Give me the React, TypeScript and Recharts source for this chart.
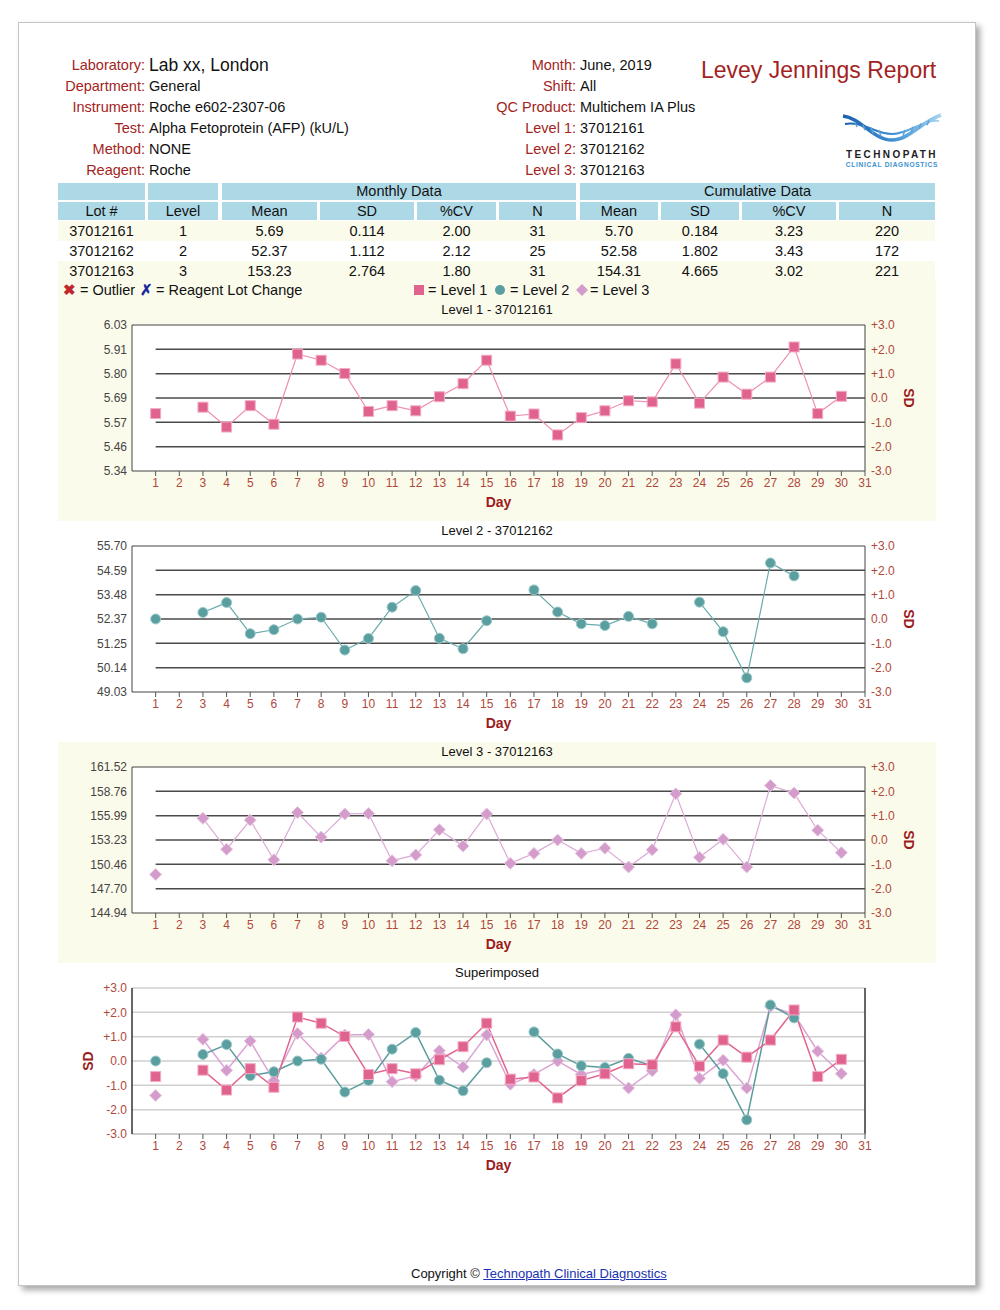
import { LineChart, Line, XAxis, YAxis, CartesianGrid, ReferenceLine, ReferenceArea } from "recharts";

const FONT = "'Liberation Sans', Arial, sans-serif";
const RED = "#a3231d";
const TICK_RED = "#b0483a";
const CREAM = "#fbfbec";
const BLUE_CELL = "#add8e6";

// report header
const leftLabels = ["Laboratory:", "Department:", "Instrument:", "Test:", "Method:", "Reagent:"];
const leftValues = ["Lab xx, London", "General", "Roche e602-2307-06", "Alpha Fetoprotein (AFP) (kU/L)", "NONE", "Roche"];
const rightLabels = ["Month:", "Shift:", "QC Product:", "Level 1:", "Level 2:", "Level 3:"];
const rightValues = ["June, 2019", "All", "Multichem IA Plus", "37012161", "37012162", "37012163"];

// summary table
const lots = ["37012161", "37012162", "37012163"];
const levels = ["1", "2", "3"];
const monthlyMean = [5.69, 52.37, 153.23];
const monthlySd = [0.114, 1.112, 2.764];
const monthlyMeanText = ["5.69", "52.37", "153.23"];
const monthlySdText = ["0.114", "1.112", "2.764"];
const monthlyCv = ["2.00", "2.12", "1.80"];
const monthlyN = ["31", "25", "31"];
const cumMean = ["5.70", "52.58", "154.31"];
const cumSd = ["0.184", "1.802", "4.665"];
const cumCv = ["3.23", "3.43", "3.02"];
const cumN = ["220", "172", "221"];

// daily QC results
const days = [1, 2, 3, 4, 5, 6, 7, 8, 9, 10, 11, 12, 13, 14, 15, 16, 17, 18, 19, 20, 21, 22, 23, 24, 25, 26, 27, 28, 29, 30, 31];
const level1 = [5.617, null, 5.647, 5.554, 5.654, 5.567, 5.896, 5.867, 5.805, 5.627, 5.654, 5.63, 5.696, 5.757, 5.867,
  5.605, 5.615, 5.517, 5.598, 5.63, 5.677, 5.672, 5.85, 5.666, 5.788, 5.708, 5.788, 5.929, 5.617, 5.698, null];
const level2 = [52.37, null, 52.67, 53.12, 51.7, 51.88, 52.37, 52.45, 50.95, 51.48, 52.91, 53.67, 51.49, 51.01, 52.29,
  null, 53.7, 52.69, 52.15, 52.07, 52.49, 52.15, null, 53.14, 51.79, 49.68, 54.93, 54.34, null, null, null];
const level3 = [149.31, null, 155.69, 152.18, 155.5, 150.99, 156.35, 153.56, 156.19, 156.24, 150.88, 151.54, 154.39, 152.54, 156.19,
  150.58, 151.71, 153.23, 151.71, 152.29, 150.16, 152.12, 158.48, 151.27, 153.31, 150.16, 159.42, 158.56, 154.34, 151.79, null];

const level1Ticks = ["5.34", "5.46", "5.57", "5.69", "5.80", "5.91", "6.03"];
const level2Ticks = ["49.03", "50.14", "51.25", "52.37", "53.48", "54.59", "55.70"];
const level3Ticks = ["144.94", "147.70", "150.46", "153.23", "155.99", "158.76", "161.52"];
const sdTicks = [-3, -2, -1, 0, 1, 2, 3];

const fmtSd = (v: number) => (v > 0 ? `+${v.toFixed(1)}` : v.toFixed(1));

const Square = (p: any, fill = "#e0628f", edge = "#f3adc6") => {
  if (p.cx == null || p.cy == null || p.value == null) return <g key={`s${p.index}`} />;
  return <rect key={`s${p.index}`} x={p.cx - 5} y={p.cy - 5} width={10} height={10} fill={fill} stroke={edge} strokeWidth={1} />;
};
const Circle = (p: any) => {
  if (p.cx == null || p.cy == null || p.value == null) return <g key={`c${p.index}`} />;
  return <circle key={`c${p.index}`} cx={p.cx} cy={p.cy} r={5} fill="#5a9ea0" stroke="#9ccaca" strokeWidth={1} />;
};
const Diamond = (p: any) => {
  if (p.cx == null || p.cy == null || p.value == null) return <g key={`d${p.index}`} />;
  const { cx, cy } = p;
  return (
    <path key={`d${p.index}`} d={`M${cx} ${cy - 6}L${cx + 6} ${cy}L${cx} ${cy + 6}L${cx - 6} ${cy}Z`}
      fill="#d49ccb" stroke="#e9c6e3" strokeWidth={1} />
  );
};

const xAxisProps = {
  dataKey: "day",
  type: "number" as const,
  domain: [0, 31],
  ticks: days,
  interval: 0,
  tickSize: 5,
  tickMargin: 2,
  height: 49,
  axisLine: false,
  tickLine: { stroke: "#555" },
  tick: { fill: TICK_RED, fontSize: 12, fontFamily: FONT },
  label: { value: "Day", position: "insideBottom" as const, offset: 13, fill: "#9b1c1c", fontSize: 14, fontWeight: "bold", fontFamily: FONT },
};

function Panel({ top, cream, title, children }: any) {
  return (
    <div style={{ position: "absolute", left: 58, top, width: 878, height: 221, background: cream ? CREAM : "#fff" }}>
      <div style={{ position: "absolute", top: 2, left: 0, width: 878, textAlign: "center", fontSize: 13, lineHeight: "16px", color: "#111" }}>
        {title}
      </div>
      {children}
    </div>
  );
}

function LevelChart({ top, cream, title, values, mean, sd, labels, dot, lineColor }: any) {
  const data = days.map((d, i) => ({ day: d, v: values[i], z: values[i] == null ? null : (values[i] - mean) / sd }));
  return (
    <Panel top={top} cream={cream} title={title}>
      <LineChart width={878} height={220} data={data} margin={{ top: 25, right: 0, bottom: 0, left: 0 }}>
        <XAxis {...xAxisProps} />
        <YAxis yAxisId="val" type="number" domain={[mean - 3 * sd, mean + 3 * sd]} allowDataOverflow
          ticks={sdTicks.map((k) => mean + k * sd)}
          tickFormatter={(v: number) => labels[Math.round((v - mean) / sd) + 3]}
          width={74} tickSize={0} tickMargin={5} axisLine={false} tickLine={false}
          tick={{ fill: "#444", fontSize: 12, fontFamily: FONT }} />
        <YAxis yAxisId="sd" orientation="right" type="number" domain={[-3, 3]} allowDataOverflow ticks={sdTicks} tickFormatter={fmtSd}
          width={71} tickSize={0} tickMargin={6} axisLine={false} tickLine={false}
          tick={{ fill: TICK_RED, fontSize: 12, fontFamily: FONT }}
          label={{ value: "SD", angle: 90, position: "center", dx: 8, fill: "#9b1c1c", fontSize: 14, fontWeight: "bold", fontFamily: FONT }} />
        <ReferenceArea yAxisId="sd" x1={0} x2={31} y1={-3} y2={3} fill="#fff" fillOpacity={1} stroke="#444" strokeWidth={1} ifOverflow="visible" />
        {[-2, -1, 0, 1, 2].map((k) => (
          <ReferenceLine key={k} yAxisId="sd" segment={[{ x: 1, y: k }, { x: 31, y: k }]} stroke="#4a4a4a" strokeWidth={1.5} ifOverflow="visible" />
        ))}
        <Line yAxisId="sd" dataKey="z" stroke="none" dot={false} activeDot={false} legendType="none" isAnimationActive={false} />
        <Line yAxisId="val" dataKey="v" stroke={lineColor} strokeWidth={1.2} connectNulls={false}
          dot={dot} activeDot={false} isAnimationActive={false} />
      </LineChart>
    </Panel>
  );
}

function SuperChart({ top }: any) {
  const z = (arr: (number | null)[], i: number, k: number) => (arr[i] == null ? null : ((arr[i] as number) - monthlyMean[k]) / monthlySd[k]);
  const data = days.map((d, i) => ({ day: d, l1: z(level1, i, 0), l2: z(level2, i, 1), l3: z(level3, i, 2) }));
  return (
    <Panel top={top} cream={false} title="Superimposed">
      <LineChart width={878} height={220} data={data} margin={{ top: 25, right: 71, bottom: 0, left: 0 }}>
        <CartesianGrid horizontal vertical={false} stroke="#cfcfcf" strokeWidth={1.5} />
        <XAxis {...xAxisProps} axisLine={{ stroke: "#bbb" }} />
        <YAxis type="number" domain={[-3, 3]} ticks={sdTicks} tickFormatter={fmtSd}
          width={74} tickSize={0} tickMargin={5} axisLine={{ stroke: "#333", strokeWidth: 1.5 }} tickLine={false}
          tick={{ fill: TICK_RED, fontSize: 12, fontFamily: FONT }}
          label={{ value: "SD", angle: -90, position: "center", dx: -7, fill: "#9b1c1c", fontSize: 14, fontWeight: "bold", fontFamily: FONT }} />
        <ReferenceLine x={31} stroke="#333" strokeWidth={1.5} />
        <Line dataKey="l3" stroke="#dba3d3" strokeWidth={1.5} connectNulls={false} dot={Diamond} activeDot={false} isAnimationActive={false} />
        <Line dataKey="l2" stroke="#5a9c9d" strokeWidth={1.5} connectNulls={false} dot={Circle} activeDot={false} isAnimationActive={false} />
        <Line dataKey="l1" stroke="#e2648f" strokeWidth={1.5} connectNulls={false} dot={(p: any) => Square(p)} activeDot={false} isAnimationActive={false} />
      </LineChart>
    </Panel>
  );
}

function Logo() {
  return (
    <svg width={102} height={58} style={{ position: "absolute", left: 841, top: 112 }}>
      <defs>
        <linearGradient id="hx" x1="0" x2="1" y1="0" y2="0">
          <stop offset="0" stopColor="#1c5eab" />
          <stop offset="0.5" stopColor="#3f8fd2" />
          <stop offset="1" stopColor="#a6d4f0" />
        </linearGradient>
      </defs>
      <path d="M2 4 C 20 6, 32 28, 51 28 C 68 28, 80 10, 100 3" stroke="url(#hx)" strokeWidth={3.5} fill="none" />
      <path d="M4 12 C 22 9, 34 22, 51 22 C 68 22, 82 7, 98 9" stroke="url(#hx)" strokeWidth={2} fill="none" />
      {[14, 22, 30, 38, 62, 70, 78, 86].map((x) => (
        <line key={x} x1={x} y1={x < 50 ? 10 + (x - 14) * 0.35 : 24 - (x - 62) * 0.45} x2={x + 2} y2={x < 50 ? 15 + (x - 14) * 0.4 : 18 - (x - 62) * 0.4}
          stroke="#5aa3dc" strokeWidth={1.5} />
      ))}
      <text x={51} y={46} textAnchor="middle" fontSize={10} fontWeight="bold" letterSpacing={2.4} fill="#222" fontFamily={FONT}>TECHNOPATH</text>
      <text x={51} y={55} textAnchor="middle" fontSize={6.6} fontWeight="bold" letterSpacing={0.7} fill="#3d8fd1" fontFamily={FONT}>CLINICAL DIAGNOSTICS</text>
    </svg>
  );
}

const cols = [[58, 87], [148, 70], [222, 95], [320, 94], [417, 79], [499, 77], [580, 78], [661, 78], [742, 94], [839, 96]];
const colHeads = ["Lot #", "Level", "Mean", "SD", "%CV", "N", "Mean", "SD", "%CV", "N"];

function Cell({ x, y, w, h, bg, text }: any) {
  return (
    <div style={{ position: "absolute", left: x, top: y, width: w, height: h, background: bg, textAlign: "center", lineHeight: `${h}px`, fontSize: 14.5, color: "#111" }}>
      {text}
    </div>
  );
}

function Table() {
  const rows = lots.map((lot, i) => [lot, levels[i], monthlyMeanText[i], monthlySdText[i], monthlyCv[i], monthlyN[i], cumMean[i], cumSd[i], cumCv[i], cumN[i]]);
  return (
    <>
      <Cell x={58} y={183} w={87} h={17} bg={BLUE_CELL} text="" />
      <Cell x={148} y={183} w={70} h={17} bg={BLUE_CELL} text="" />
      <Cell x={222} y={183} w={354} h={17} bg={BLUE_CELL} text="Monthly Data" />
      <Cell x={580} y={183} w={355} h={17} bg={BLUE_CELL} text="Cumulative Data" />
      {cols.map(([x, w], j) => (
        <Cell key={`h${j}`} x={x} y={202} w={w} h={18} bg={BLUE_CELL} text={colHeads[j]} />
      ))}
      {rows.map((r, i) => (
        <div key={i} style={{ position: "absolute", left: 58, top: 221 + i * 20, width: 877, height: 20, background: i === 1 ? "#fff" : CREAM }}>
          {r.map((t, j) => (
            <Cell key={j} x={cols[j][0] - 58} y={0} w={cols[j][1]} h={20} bg="transparent" text={t} />
          ))}
        </div>
      ))}
      <div style={{ position: "absolute", left: 58, top: 281, width: 878, height: 19, background: CREAM, fontSize: 14.5, lineHeight: "19px", color: "#111" }}>
        <span style={{ position: "absolute", left: 5, color: "#c0282d", fontWeight: "bold" }}>✖</span>
        <span style={{ position: "absolute", left: 22 }}>= Outlier</span>
        <span style={{ position: "absolute", left: 82, color: "#1a2a9c", fontWeight: "bold" }}>✗</span>
        <span style={{ position: "absolute", left: 98 }}>= Reagent Lot Change</span>
        <svg width={240} height={19} style={{ position: "absolute", left: 354, top: 0 }}>
          <rect x={2} y={4} width={10} height={10} fill="#e0628f" />
          <circle cx={88} cy={9} r={5} fill="#5a9ea0" />
          <path d="M170 3L176 9L170 15L164 9Z" fill="#d49ccb" />
        </svg>
        <span style={{ position: "absolute", left: 370 }}>= Level 1</span>
        <span style={{ position: "absolute", left: 452 }}>= Level 2</span>
        <span style={{ position: "absolute", left: 532 }}>= Level 3</span>
      </div>
    </>
  );
}

export default function App() {
  return (
    <div style={{ position: "absolute", left: 0, top: 0, width: 1000, height: 1310, background: "#fff", fontFamily: FONT, overflow: "hidden" }}>
      <div style={{ position: "absolute", left: 18, top: 22, width: 956, height: 1262, background: "#fff", border: "1px solid #c4c4c4", boxShadow: "4px 4px 6px rgba(0,0,0,0.35)" }} />
      {leftLabels.map((l, i) => (
        <div key={l} style={{ position: "absolute", top: 55 + i * 21, left: 0, width: 1000, height: 21, lineHeight: "21px", fontSize: 14.5 }}>
          <span style={{ position: "absolute", right: 1000 - 145, color: RED }}>{l}</span>
          <span style={{ position: "absolute", left: 149, color: "#111", fontSize: i === 0 ? 17.5 : 14.5 }}>{leftValues[i]}</span>
        </div>
      ))}
      {rightLabels.map((l, i) => (
        <div key={l} style={{ position: "absolute", top: 55 + i * 21, left: 0, width: 1000, height: 21, lineHeight: "21px", fontSize: 14.5 }}>
          <span style={{ position: "absolute", right: 1000 - 576, color: RED }}>{l}</span>
          <span style={{ position: "absolute", left: 580, color: "#111" }}>{rightValues[i]}</span>
        </div>
      ))}
      <div style={{ position: "absolute", left: 701, top: 56, fontSize: 23, color: "#a31f1f", lineHeight: "28px", whiteSpace: "nowrap" }}>
        Levey Jennings Report
      </div>
      <Logo />
      <Table />
      <LevelChart top={300} cream title="Level 1 - 37012161" values={level1} mean={monthlyMean[0]} sd={monthlySd[0]}
        labels={level1Ticks} dot={(p: any) => Square(p)} lineColor="#ee8fb1" />
      <LevelChart top={521} cream={false} title="Level 2 - 37012162" values={level2} mean={monthlyMean[1]} sd={monthlySd[1]}
        labels={level2Ticks} dot={Circle} lineColor="#6aabab" />
      <LevelChart top={742} cream title="Level 3 - 37012163" values={level3} mean={monthlyMean[2]} sd={monthlySd[2]}
        labels={level3Ticks} dot={Diamond} lineColor="#dcaad6" />
      <SuperChart top={963} />
      <div style={{ position: "absolute", left: 411, top: 1266, fontSize: 13, lineHeight: "16px", color: "#111", whiteSpace: "nowrap" }}>
        Copyright © <a href="#" style={{ color: "#1a33b0", textDecoration: "underline" }}>Technopath Clinical Diagnostics</a>
      </div>
    </div>
  );
}
